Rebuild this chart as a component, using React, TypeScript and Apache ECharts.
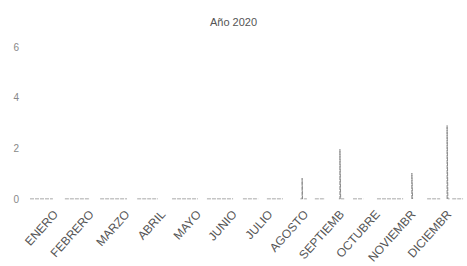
import React, { useEffect, useRef } from "react";
import * as echarts from "echarts";

const months = ["ENERO", "FEBRERO", "MARZO", "ABRIL", "MAYO", "JUNIO", "JULIO", "AGOSTO", "SEPTIEMB", "OCTUBRE", "NOVIEMBR", "DICIEMBR"];
const yTicks = [0, 2, 4, 6];
const title = "Año 2020";

// trace of the line: [position in months, value]; null breaks the line
const trace: [number, number | null][] = [
  [0.0, 0], [0.63, 0], [0.8, null],
  [0.96, 0], [1.65, 0], [1.8, null],
  [1.93, 0], [2.67, 0], [2.8, null],
  [2.95, 0], [3.52, 0], [3.7, null],
  [3.91, 0], [4.62, 0], [4.75, null],
  [4.87, 0], [5.59, 0], [5.7, null],
  [5.86, 0], [6.28, 0], [6.4, null],
  [6.52, 0], [6.96, 0], [7.2, null],
  [7.44, 0], [7.49, 0], [7.49, 0.82], [7.5, 0], [7.62, 0], [7.7, null],
  [7.84, 0], [8.12, 0], [8.3, null],
  [8.5, 0], [8.53, 0], [8.53, 1.96], [8.55, 0], [8.66, 0], [8.75, null],
  [8.89, 0], [9.17, 0], [9.3, null],
  [9.55, 0], [10.27, 0], [10.4, null],
  [10.51, 0], [10.51, 1.02], [10.53, 0], [10.6, null],
  [10.93, 0], [11.29, 0], [11.4, null],
  [11.48, 0], [11.48, 2.9], [11.5, 0], [11.55, 0], [11.58, null],
  [11.62, 0], [11.92, 0],
];

export default function App() {
  const ref = useRef<HTMLDivElement>(null);
  useEffect(() => {
    if (!ref.current) return;
    const chart = echarts.init(ref.current, undefined, { renderer: "svg" });
    chart.setOption({
      animation: false,
      backgroundColor: "#fff",
      title: {
        text: title,
        left: "center",
        top: 11,
        textStyle: { fontSize: 11, fontWeight: "normal", color: "#555", fontFamily: "Liberation Sans" },
      },
      grid: [
        { left: 30, width: 436, top: 47, height: 152 },
        { left: 38, width: 436, top: 47, height: 152 },
      ],
      xAxis: [
        {
          type: "value", gridIndex: 0, min: 0, max: 12, show: false,
        },
        {
          type: "category", gridIndex: 1, data: months, boundaryGap: true,
          axisLine: { show: false }, axisTick: { show: false },
          axisLabel: { rotate: 48, margin: 21, fontSize: 12, color: "#555", fontFamily: "Liberation Sans", interval: 0 },
        },
      ],
      yAxis: [
        {
          type: "value", gridIndex: 0, min: 0, max: 6, interval: 2,
          axisLine: { show: false }, axisTick: { show: false }, splitLine: { show: false },
          axisLabel: { fontSize: 10, color: "#888", margin: 11, fontFamily: "Liberation Sans", customValues: yTicks },
        },
        { type: "value", gridIndex: 1, min: 0, max: 6, show: false },
      ],
      series: [
        {
          type: "line", xAxisIndex: 0, yAxisIndex: 0, data: trace, showSymbol: false, connectNulls: false,
          lineStyle: { color: "#8a8a8a", width: 1, type: [4, 1] },
        },
        { type: "line", xAxisIndex: 1, yAxisIndex: 1, data: [], showSymbol: false },
      ],
    });
    return () => chart.dispose();
  }, []);
  return <div ref={ref} style={{ width: 467, height: 266, position: "absolute", left: 0, top: 0 }} />;
}
